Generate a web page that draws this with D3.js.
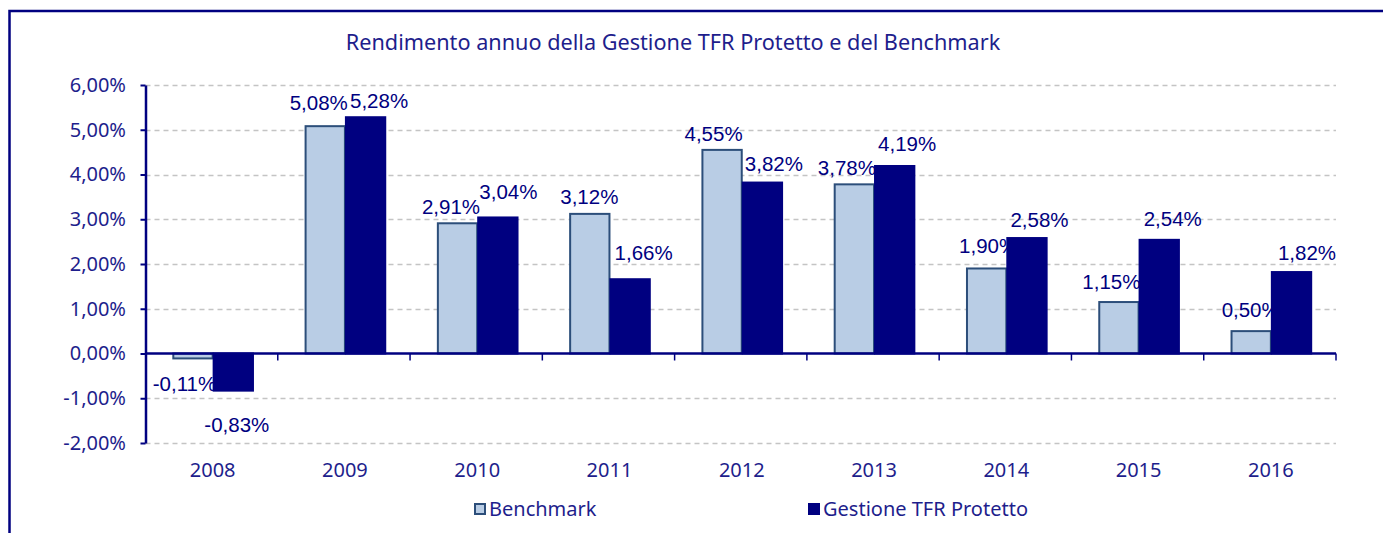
<!DOCTYPE html>
<html>
<head>
<meta charset="utf-8">
<script src="https://cdn.jsdelivr.net/npm/d3@7"></script>
<style>
  html, body { margin: 0; padding: 0; background: #ffffff; }
  svg { display: block; }
</style>
</head>
<body>
<svg id="chart" width="1383" height="533"></svg>
<script>
// ---------------- DATA ----------------
const title = "Rendimento annuo della Gestione TFR Protetto e del Benchmark";
const years = ["2008", "2009", "2010", "2011", "2012", "2013", "2014", "2015", "2016"];
const seriesNames = ["Benchmark", "Gestione TFR Protetto"];
const benchmark = [-0.11, 5.08, 2.91, 3.12, 4.55, 3.78, 1.90, 1.15, 0.50];
const gestione  = [-0.83, 5.28, 3.04, 1.66, 3.82, 4.19, 2.58, 2.54, 1.82];
const yTicks = [-2, -1, 0, 1, 2, 3, 4, 5, 6];

// ---------------- LAYOUT / STYLE ----------------
const W = 1383, H = 533;
const plot = { left: 145.5, right: 1336, top: 85, bottom: 443 };
const navy = "#000080";
const textNavy = "#1e1e8c";
const benchFill = "#b9cde5", benchStroke = "#2c4e7a";
const gridColor = "#c4c4c4";
const axisFont = "'Noto Sans', 'Open Sans', sans-serif";
const labelFont = "'Liberation Sans', Arial, sans-serif";
const barShift = 1;

// manual label nudges (as dragged in the original): [dx from bar centre, gap from bar end]
const labelNudge = {
  "Benchmark": [[-8, 25], [-6, 24], [-6, 17], [0, 17], [-8, 16], [-7, 17], [2, 23], [-7, 20], [0, 22]],
  "Gestione TFR Protetto": [[4, 34], [14, 17], [11, 26], [14, 27], [12, 19], [13, 22], [13, 18], [14, 21], [16, 19]]
};

const itLocale = d3.formatLocale({ decimal: ",", thousands: ".", grouping: [3], currency: ["€", ""], minus: "-" });
const fmt2 = itLocale.format(".2f");
const pct = v => fmt2(v) + "%";

const svg = d3.select("#chart");

// outer frame (continues beyond the picture on right/bottom)
svg.append("path")
  .attr("d", `M9.5,${H + 20} L9.5,11 L${W + 20},11`)
  .attr("fill", "none").attr("stroke", navy).attr("stroke-width", 2.5);

// scales
const y = d3.scaleLinear().domain([-2, 6]).range([plot.bottom, plot.top]);
const x0 = d3.scaleBand().domain(years).range([plot.left, plot.right]).paddingInner(0).paddingOuter(0);
const x1 = d3.scaleBand().domain(seriesNames).range([0, x0.bandwidth()]).paddingInner(0).paddingOuter(0.64);

// gridlines
svg.append("g").selectAll("line")
  .data(yTicks.filter(t => t !== 0))
  .join("line")
  .attr("x1", plot.left).attr("x2", plot.right)
  .attr("y1", d => Math.round(y(d)) + 0.5).attr("y2", d => Math.round(y(d)) + 0.5)
  .attr("stroke", gridColor).attr("stroke-width", 1.5).attr("stroke-dasharray", "5,4");

// title
const t = svg.append("text")
  .attr("x", 673).attr("y", 50)
  .attr("text-anchor", "middle")
  .attr("font-family", axisFont).attr("font-size", 22)
  .attr("fill", textNavy)
  .text(title);
{
  const len = t.node().getComputedTextLength();
  t.attr("font-size", 22 * 655 / len);
}

// bars
const series = [
  { name: seriesNames[0], values: benchmark, fill: benchFill, stroke: benchStroke },
  { name: seriesNames[1], values: gestione, fill: navy, stroke: navy }
];

const gBars = svg.append("g");
series.forEach(s => {
  gBars.selectAll(null)
    .data(s.values.map((v, i) => ({ v, year: years[i] })))
    .join("rect")
    .attr("x", d => x0(d.year) + x1(s.name) + 1 + barShift)
    .attr("width", x1.bandwidth() - 1)
    .attr("y", d => y(Math.max(0, d.v)))
    .attr("height", d => Math.abs(y(d.v) - y(0)))
    .attr("fill", s.fill)
    .attr("stroke", s.stroke)
    .attr("stroke-width", 2);
});

// y axis
const yAxis = d3.axisLeft(y).tickValues(yTicks).tickFormat(pct).tickSize(5).tickSizeOuter(0).tickPadding(14.5);
const gy = svg.append("g").attr("transform", `translate(${plot.left},0)`).call(yAxis);
gy.select(".domain").attr("stroke", navy).attr("stroke-width", 2.5);
gy.selectAll(".tick line").attr("stroke", navy).attr("stroke-width", 2);
gy.selectAll(".tick text").attr("font-family", axisFont).attr("font-size", 20).attr("fill", textNavy);

// zero axis line with category boundary ticks
const y0 = y(0);
svg.append("line")
  .attr("x1", plot.left).attr("x2", plot.right)
  .attr("y1", y0).attr("y2", y0)
  .attr("stroke", navy).attr("stroke-width", 2.5);
const boundaries = years.slice(1).map(yr => x0(yr)).concat([plot.right]);
svg.append("g").selectAll("line")
  .data(boundaries).join("line")
  .attr("x1", d => d).attr("x2", d => d)
  .attr("y1", y0).attr("y2", y0 + 7)
  .attr("stroke", navy).attr("stroke-width", 1.5);

// category labels
const xAxis = d3.axisBottom(x0).tickSize(0).tickPadding(20);
const gx = svg.append("g").attr("transform", `translate(${barShift},${plot.bottom})`).call(xAxis);
gx.select(".domain").remove();
gx.selectAll(".tick text").attr("font-family", axisFont).attr("font-size", 20).attr("fill", textNavy);

// data labels
const gLabels = svg.append("g");
series.forEach(s => {
  gLabels.selectAll(null)
    .data(s.values.map((v, i) => ({ v, i, year: years[i] })))
    .join("text")
    .attr("x", d => x0(d.year) + x1(s.name) + x1.bandwidth() / 2 + barShift + labelNudge[s.name][d.i][0])
    .attr("y", d => d.v >= 0 ? y(d.v) - labelNudge[s.name][d.i][1] : y(d.v) + labelNudge[s.name][d.i][1])
    .attr("dy", "0.36em")
    .attr("text-anchor", "middle")
    .attr("font-family", labelFont).attr("font-size", 20.5)
    .attr("fill", navy)
    .text(d => pct(d.v));
});

// legend
const legendItems = [
  { name: seriesNames[0], fill: benchFill, stroke: benchStroke, x: 474 },
  { name: seriesNames[1], fill: navy, stroke: navy, x: 808 }
];
const gLeg = svg.append("g");
legendItems.forEach(it => {
  gLeg.append("rect")
    .attr("x", it.x + 1).attr("y", 504)
    .attr("width", 10).attr("height", 10)
    .attr("fill", it.fill).attr("stroke", it.stroke).attr("stroke-width", 2);
  gLeg.append("text")
    .attr("x", it.x + 15).attr("y", 516)
    .attr("font-family", axisFont).attr("font-size", 20)
    .attr("fill", textNavy)
    .text(it.name);
});
</script>
</body>
</html>
